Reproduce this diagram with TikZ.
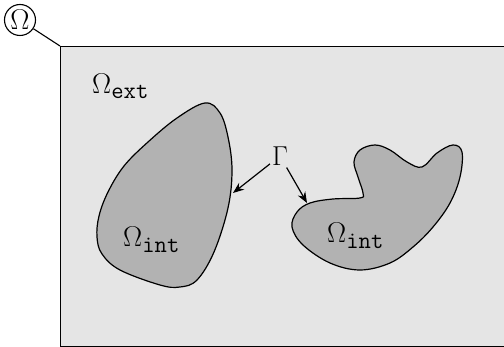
\documentclass[tikz,border=0pt]{standalone}
\usepackage{fix-cm}
\usetikzlibrary{arrows.meta, positioning}

\newcommand{\Om}{\scalebox{1.15}{$\Omega$}}
\newcommand{\dominio}[1]{$\mbox{\Om}_{\mbox{\fontsize{24}{24}\selectfont\ttfamily #1}}$}

\begin{document}
\begin{tikzpicture}[
        x=1pt, y=-1pt,
        % Dominio exterior
        dominio/.style={
                rectangle,
                draw=black,
                fill=gray!20,
                line width=1.3pt,
                minimum width=470pt,
                minimum height=300pt,
                anchor=north west,
                inner sep=0pt
            },
        % Subdominios interiores
        subdominio/.style={
                draw=black,
                fill=gray!60,
                line width=1.2pt
            },
        % Etiquetas
        etiqueta/.style={
                inner sep=0pt,
                anchor=base west,
                font=\fontsize{24.88}{30}\selectfont
            },
        % Marca del dominio
        marca/.style={
                circle,
                draw=black,
                line width=1.1pt,
                minimum size=31pt,
                inner sep=0pt,
                font=\fontsize{24.88}{30}\selectfont
            },
        % Flechas
        flecha/.style={
                -{Stealth[length=11pt,width=8.5pt]},
                line width=1.2pt
            }
    ]

    \path[use as bounding box, clip] (0,0) rectangle (504,347);

    % Dominio
    \node[dominio] (omegadom) at (60,46) {};
    \node[marca] (omega) at (20,20) {\Om};
    \draw[line width=1.1pt] (omega) -- (omegadom.north west);

    % Subdominio izquierdo
    \draw[subdominio] plot[smooth cycle, tension=0.6] coordinates {
        (205,103) (220,113) (228,137) (232,170) (228,208) (214,252) (197,280)
        (180,287) (160,285) (120,270) (102,254) (97,237) (99,216) (108,192)
        (124,166) (148,142) (177,118)
    };

    % Subdominio derecho
    \draw[subdominio] plot[smooth cycle, tension=0.6] coordinates {
        (292,227) (297,212) (310,203) (333,199) (360,198) (363,193) (358,177)
        (354,162) (360,150) (375,145) (390,150) (407,162) (422,167) (437,153)
        (453,145) (462,152) (460,177) (450,203) (433,227) (413,247) (390,263)
        (360,270) (330,263) (303,245)
    };

    % Etiquetas
    \node[etiqueta] (omegaext) at (92,94) {\dominio{ext}};
    \node[etiqueta] (omegaint1) at (123,247) {\dominio{int}};
    \node[etiqueta] (omegaint2) at (327,243) {\dominio{int}};

    % Frontera
    \node[font=\fontsize{24.88}{30}\selectfont, inner sep=2pt] (gamma) at (280,156) {\scalebox{1.1}{$\Gamma$}};
    \coordinate (borde1) at (233,193);
    \coordinate (borde2) at (307,203);
    \draw[flecha] (gamma) -- (borde1);
    \draw[flecha] (gamma) -- (borde2);

\end{tikzpicture}
\end{document}
